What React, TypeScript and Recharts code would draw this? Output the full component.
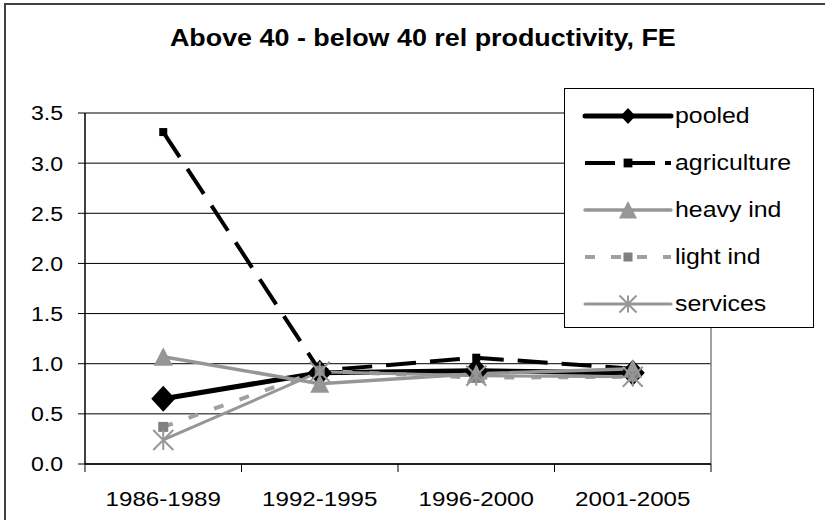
import React from "react";
import { LineChart, Line, XAxis, YAxis, CartesianGrid, ReferenceLine, Legend } from "recharts";

const categories = ["1986-1989", "1992-1995", "1996-2000", "2001-2005"];
const pooled = [0.65, 0.91, 0.93, 0.91];
const agriculture = [3.31, 0.93, 1.06, 0.95];
const heavyInd = [1.07, 0.80, 0.90, 0.95];
const lightInd = [0.37, 0.93, 0.86, 0.87];
const services = [0.24, 0.92, 0.88, 0.87];
const yTicks = [0, 0.5, 1, 1.5, 2, 2.5, 3, 3.5];
const title = "Above 40 - below 40 rel productivity, FE";

const data = categories.map((c, i) => ({
  x: i + 0.5,
  cat: c,
  pooled: pooled[i],
  agriculture: agriculture[i],
  heavy: heavyInd[i],
  light: lightInd[i],
  services: services[i],
}));

const xTicks: number[] = [];
for (let i = 0; i <= categories.length * 2; i++) xTicks.push(i / 2);

const FONT = "'Liberation Sans', Arial, sans-serif";
const GRAY = "#969696";

type MarkerKind = "diamond" | "square" | "triangle" | "lsquare" | "star";

function Marker({ kind, cx, cy, scale = 1 }: { kind: MarkerKind; cx: number; cy: number; scale?: number }) {
  if (cx == null || cy == null || isNaN(cx) || isNaN(cy)) return null;
  if (kind === "diamond") {
    const w = 12 * scale, h = 13 * scale;
    return <polygon points={`${cx},${cy - h} ${cx + w},${cy} ${cx},${cy + h} ${cx - w},${cy}`} fill="#000" />;
  }
  if (kind === "square") {
    const s = 4 * scale;
    return <rect x={cx - s} y={cy - s} width={2 * s} height={2 * s} fill="#000" />;
  }
  if (kind === "triangle") {
    const s = 9.5 * scale;
    return <polygon points={`${cx},${cy - s} ${cx + s},${cy + s * 0.95} ${cx - s},${cy + s * 0.95}`} fill={GRAY} />;
  }
  if (kind === "lsquare") {
    const s = 5 * scale;
    return <rect x={cx - s} y={cy - s} width={2 * s} height={2 * s} fill="#808080" />;
  }
  const s = 10 * scale;
  return (
    <g stroke={GRAY} strokeWidth={2}>
      <line x1={cx - s} y1={cy - s} x2={cx + s} y2={cy + s} />
      <line x1={cx - s} y1={cy + s} x2={cx + s} y2={cy - s} />
      <line x1={cx} y1={cy - s} x2={cx} y2={cy + s} />
    </g>
  );
}

const seriesDefs = [
  { key: "pooled", name: "pooled", color: "#000", width: 5, dash: undefined as string | undefined, legendDash: undefined as string | undefined, marker: "diamond" as MarkerKind, legendScale: 0.62 },
  { key: "agriculture", name: "agriculture", color: "#000", width: 4, dash: "30 14", legendDash: "30 10", marker: "square" as MarkerKind, legendScale: 1.1 },
  { key: "heavy", name: "heavy ind", color: GRAY, width: 3.5, dash: undefined, legendDash: undefined, marker: "triangle" as MarkerKind, legendScale: 0.95 },
  { key: "light", name: "light ind", color: "#a0a0a0", width: 4, dash: "10 17", legendDash: "10 16", marker: "lsquare" as MarkerKind, legendScale: 0.9 },
  { key: "services", name: "services", color: GRAY, width: 3, dash: undefined, legendDash: undefined, marker: "star" as MarkerKind, legendScale: 0.85 },
];

function XTick(props: any) {
  const { x, y, payload } = props;
  const v = payload.value as number;
  if (Number.isInteger(v)) {
    const axisY = y - 27;
    return <line x1={x} x2={x} y1={axisY} y2={axisY + 8} stroke="#000" strokeWidth={1} />;
  }
  const label = categories[Math.floor(v)];
  return (
    <text
      transform={`translate(${x} ${y}) scale(1.15 1)`}
      x={0}
      y={0}
      dy="0.71em"
      textAnchor="middle"
      fontSize={21}
      fontFamily={FONT}
      fill="#000"
    >
      {label}
    </text>
  );
}

function YTick(props: any) {
  const { x, y, payload } = props;
  const v = payload.value as number;
  return (
    <text
      transform={`translate(${x} ${y}) scale(1.1 1)`}
      x={0}
      y={0}
      dy="0.355em"
      textAnchor="end"
      fontSize={21}
      fontFamily={FONT}
      fill="#000"
    >
      {v.toFixed(1)}
    </text>
  );
}

function LegendBox() {
  return (
    <div
      style={{
        width: 250,
        height: 240,
        border: "1px solid #000",
        background: "#fff",
        boxSizing: "border-box",
        position: "relative",
      }}
    >
      {seriesDefs.map((s, i) => (
        <div
          key={s.key}
          style={{ position: "absolute", left: 0, top: 6 + i * 47, height: 42, display: "flex", alignItems: "center" }}
        >
          <svg width={110} height={42} style={{ display: "block" }}>
            <line
              x1={20}
              x2={106}
              y1={21}
              y2={21}
              stroke={s.color}
              strokeWidth={s.width}
              strokeDasharray={s.legendDash}
              strokeLinecap={s.legendDash ? "butt" : "round"}
            />
            <Marker kind={s.marker} cx={63} cy={21} scale={s.legendScale} />
          </svg>
          <span
            style={{
              fontFamily: FONT,
              fontSize: 22,
              color: "#000",
              whiteSpace: "nowrap",
              display: "inline-block",
              transform: "scaleX(1.13)",
              transformOrigin: "left center",
            }}
          >
            {s.name}
          </span>
        </div>
      ))}
    </div>
  );
}

export default function App() {
  return (
    <div style={{ position: "absolute", left: 0, top: 0, width: 825, height: 520, background: "#fff", overflow: "hidden" }}>
      <div
        style={{
          position: "absolute",
          left: 4,
          top: 3,
          width: 830,
          height: 530,
          border: "2px solid #404040",
          boxSizing: "border-box",
        }}
      />
      <div
        style={{
          position: "absolute",
          left: 0,
          top: 24,
          width: 846,
          textAlign: "center",
          fontFamily: FONT,
          fontWeight: "bold",
          fontSize: 24,
          color: "#000",
          whiteSpace: "nowrap",
        }}
      >
        <span style={{ display: "inline-block", transform: "scaleX(1.12)" }}>{title}</span>
      </div>
      <div style={{ position: "absolute", left: 0, top: 0 }}>
        <LineChart width={825} height={520} data={data} margin={{ top: 113, right: 114, left: 0, bottom: 26 }}>
          <CartesianGrid vertical={false} stroke="#000" strokeWidth={1} />
          <XAxis
            dataKey="x"
            type="number"
            domain={[0, 4]}
            ticks={xTicks}
            interval={0}
            height={30}
            tickSize={8}
            tickMargin={19}
            tickLine={false}
            axisLine={{ stroke: "#000", strokeWidth: 1.5 }}
            tick={<XTick />}
          />
          <YAxis
            type="number"
            domain={[0, 3.5]}
            ticks={yTicks}
            interval={0}
            width={85}
            tickSize={7}
            tickMargin={15}
            axisLine={{ stroke: "#000", strokeWidth: 1.5 }}
            tickLine={{ stroke: "#000" }}
            tick={<YTick />}
          />
          <ReferenceLine x={4} stroke="#808080" strokeWidth={1.5} />
          {seriesDefs.map((s) => (
            <Line
              key={s.key}
              dataKey={s.key}
              name={s.name}
              type="linear"
              stroke={s.color}
              strokeWidth={s.width}
              strokeDasharray={s.dash}
              isAnimationActive={false}
              dot={(p: any) => <Marker key={`${s.key}-${p.index}`} kind={s.marker} cx={p.cx} cy={p.cy} />}
              activeDot={false}
            />
          ))}
          <Legend
            layout="vertical"
            align="center"
            verticalAlign="middle"
            wrapperStyle={{ position: "absolute", left: 564, top: 88, width: 250, height: 240 }}
            content={() => <LegendBox />}
          />
        </LineChart>
      </div>
    </div>
  );
}
